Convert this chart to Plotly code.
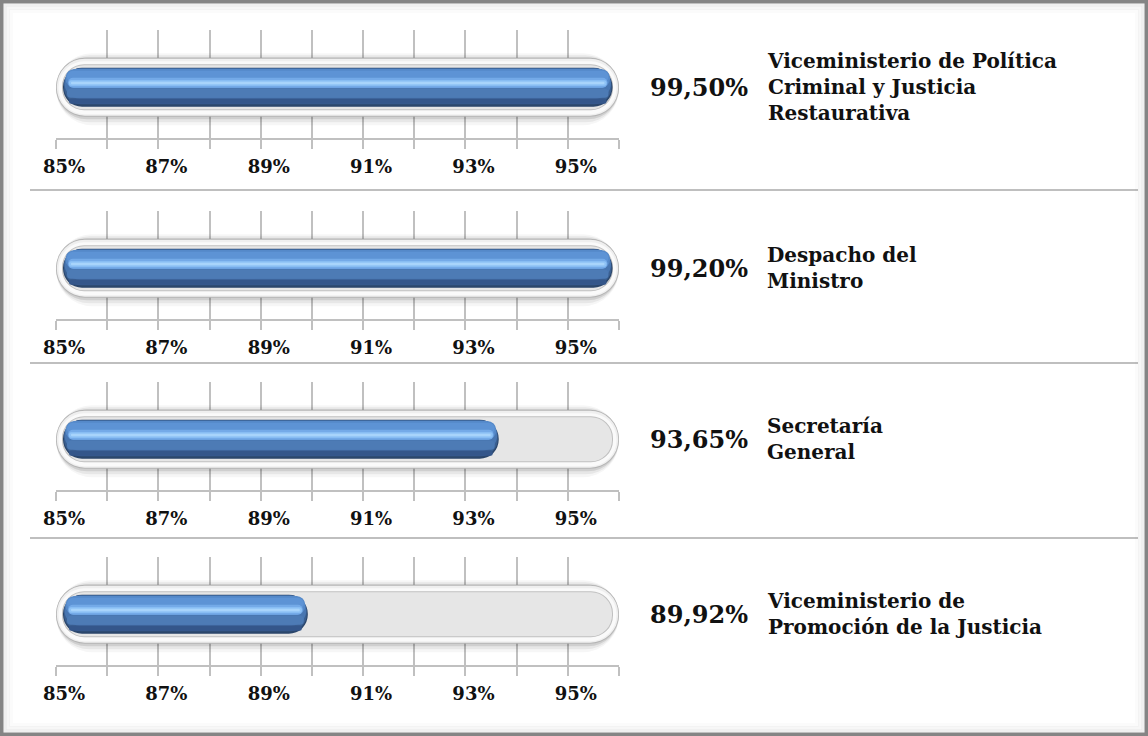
import plotly.graph_objects as go

# ---------------- data ----------------
categories = [
    "Viceministerio de Política<br>Criminal y Justicia<br>Restaurativa",
    "Despacho del<br>Ministro",
    "Secretaría<br>General",
    "Viceministerio de<br>Promoción de la Justicia",
]
values = [99.50, 99.20, 93.65, 89.92]
value_labels = ["99,50%", "99,20%", "93,65%", "89,92%"]
tick_values = [85, 87, 89, 91, 93, 95]
tick_labels = ["85%", "87%", "89%", "91%", "93%", "95%"]
axis_min = 85
axis_max = 96

# ---------------- geometry / style ----------------
W, H = 1148, 736
PLOT_X0, PLOT_X1 = 56, 619
panel_px = [(30, 138), (211, 319), (382, 490), (557, 665)]
separators_px = [190, 363, 538]
PANEL_H = 108.0
XPX = (axis_max - axis_min) / (PLOT_X1 - PLOT_X0)  # axis units per pixel
YC = 0.47  # capsule centre inside each panel (0..1)

FONT = "DejaVu Serif"
GRID = "#c0c0c0"

# track layers: (height px, colour, inset px, vertical shift px)
track_layers = [
    (72, "rgba(0,0,0,0.035)", 0, 2),
    (67, "rgba(0,0,0,0.06)", 0, 1.5),
    (62, "rgba(0,0,0,0.10)", 0, 1),
    (59, "#b5b5b5", 0, 0),
    (57, "#efefef", 0.8, 0),
    (53, "#fafafa", 2.5, 0.5),
    (46, "#c0c0c0", 6, 0),
    (44, "#e6e6e6", 7, 0),
]
# blue glossy layers: (top px, height px, colour, inset px) relative to 39px bar
BLUE_H = 39
blue_layers = [
    (0, 39, "#2b466b", 0),
    (0.5, 36, "#3a5f90", 1),
    (0.8, 30, "#4876b1", 1.5),
    (1.2, 19, "#5589c9", 2.5),
    (3, 12, "#5d93d5", 4),
    (10, 10, "#74aae8", 5),
    (12.5, 5.5, "#8fc3f6", 6),
    (14, 2.5, "#a8d4fb", 8),
    (21, 9, "#4d7bb5", 4),
    (31, 5, "#34568a", 6),
]


def capsule(traces, xa, ya, left, right, yc, thick, color):
    """Bar with both ends rounded -> pill shape."""
    traces.append(go.Bar(
        orientation="h", y=[yc], x=[right - left], base=[left], width=thick,
        marker=dict(color=color, cornerradius="50%", line=dict(width=0)),
        xaxis=xa, yaxis=ya, hoverinfo="skip", showlegend=False,
    ))


traces = []
annotations = []
layout_axes = {}

for i, (val, cat, vlab) in enumerate(zip(values, categories, value_labels)):
    n = "" if i == 0 else str(i + 1)
    xa, ya = "x" + n, "y" + n
    top, bot = panel_px[i]

    # track
    for h, col, inset, shift in track_layers:
        capsule(traces, xa, ya,
                axis_min + inset * XPX, axis_max - inset * XPX,
                YC - shift / PANEL_H, h / PANEL_H, col)

    # value bar
    b_left = axis_min + 7 * XPX
    b_right = min(val, axis_max - 6.5 * XPX)
    for t, h, col, inset in blue_layers:
        yc = YC + (BLUE_H / 2 - (t + h / 2)) / PANEL_H
        capsule(traces, xa, ya,
                b_left + inset * XPX, b_right - inset * XPX,
                yc, h / PANEL_H, col)

    layout_axes["xaxis" + n] = dict(
        domain=[PLOT_X0 / W, PLOT_X1 / W], range=[axis_min, axis_max],
        anchor=ya, tickmode="array", tickvals=tick_values, ticktext=tick_labels,
        showgrid=True, gridcolor=GRID, gridwidth=1.5,
        showline=True, linecolor=GRID, linewidth=1.5,
        ticks="outside", ticklen=9, tickwidth=1.5, tickcolor=GRID,
        ticklabelshift=8, ticklabelstandoff=3, automargin=False,
        minor=dict(dtick=1, tick0=axis_min, showgrid=True, gridcolor=GRID,
                   gridwidth=1.5, ticks="outside", ticklen=9, tickwidth=1.5,
                   tickcolor=GRID),
        zeroline=False, fixedrange=True,
        tickfont=dict(family=FONT, size=18, color="#111111", weight="bold"),
    )
    layout_axes["yaxis" + n] = dict(
        domain=[1 - bot / H, 1 - top / H], range=[0, 1], anchor=xa,
        visible=False, fixedrange=True, automargin=False,
    )

    annotations.append(dict(
        x=648 / W, xref="paper", y=YC, yref=ya, text=vlab, showarrow=False,
        xanchor="left", yanchor="middle",
        font=dict(family=FONT, size=24, color="#111111", weight="bold"),
    ))
    annotations.append(dict(
        x=765 / W, xref="paper", y=YC, yref=ya, text=cat, showarrow=False,
        xanchor="left", yanchor="middle", align="left",
        font=dict(family=FONT, size=20, color="#111111", weight="bold"),
    ))

shapes = []
for yp in separators_px:
    shapes.append(dict(type="line", xref="paper", yref="paper",
                       x0=30 / W, x1=1138 / W, y0=1 - yp / H, y1=1 - yp / H,
                       line=dict(color="#aaaaaa", width=1.5)))
# frame with soft inner shadow
for inset, col, lw in [(11, "rgba(0,0,0,0.015)", 4), (8, "rgba(0,0,0,0.03)", 4),
                       (5, "rgba(0,0,0,0.06)", 3), (0, "#858585", 7)]:
    shapes.append(dict(type="rect", xref="paper", yref="paper",
                       x0=inset / W, x1=1 - inset / W, y0=inset / H, y1=1 - inset / H,
                       line=dict(color=col, width=lw), fillcolor="rgba(0,0,0,0)"))

fig = go.Figure(data=traces)
fig.update_layout(
    width=W, height=H, margin=dict(l=0, r=0, t=0, b=0, pad=0, autoexpand=False),
    paper_bgcolor="white", plot_bgcolor="rgba(0,0,0,0)",
    barmode="overlay", showlegend=False,
    annotations=annotations, shapes=shapes,
    **layout_axes,
)
fig.write_html(
    "out.html",
    config={"displayModeBar": False},
    post_script=(
        "document.documentElement.style.margin='0';"
        "document.documentElement.style.padding='0';"
        "document.body.style.margin='0';document.body.style.padding='0';"
        "document.body.style.overflow='hidden';"
        "var d=document.getElementById('{plot_id}');"
        "d.style.position='fixed';d.style.left='0px';d.style.top='0px';"
    ),
)
